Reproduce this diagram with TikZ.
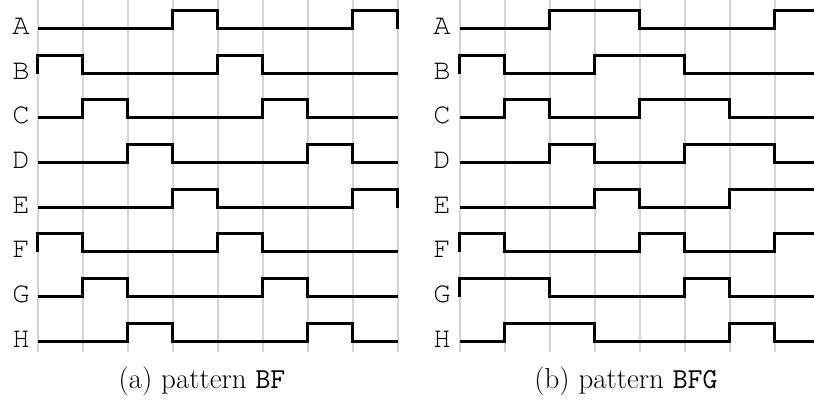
\documentclass[tikz,border=0pt]{standalone}
\usepackage{fontspec}
\newfontfamily\lblfont{texgyrecursor-regular.otf}
\tikzset{
  gridline/.style={draw=black!17, line width=2pt},
  sig/.style={draw=black, line width=3pt, line join=miter},
  lbl/.style={anchor=base east, inner sep=0pt, font=\lblfont\fontsize{29}{30}\selectfont},
  capt/.style={anchor=base, inner sep=0pt, font=\fontsize{29}{34}\selectfont}
}
\newcommand\mywave[3]{% x0, row, bits
  \pgfmathsetmacro\yl{round(28.5+44.67*#2-0.5)+0.5}
  \draw[sig] (#1,\yl) \foreach \b [count=\i from 0] in {#3} {
     -- ({#1+45*\i},{\yl-18*\b}) -- ({#1+45*(\i+1)},{\yl-18*\b}) } -- ({#1+360},\yl);
}
\begin{document}
\begin{tikzpicture}[x=1pt,y=-1pt]
\useasboundingbox (0,0) rectangle (814,405);
\clip (0,0) rectangle (814,405);
% grid
\foreach \k in {0,...,8} {
  \draw[gridline] ({38+45*\k},0) -- ({38+45*\k},352);
  \draw[gridline] ({460+45*\k},0) -- ({460+45*\k},352);
}
% labels
\foreach \n [count=\r from 0] in {A,B,C,D,E,F,G,H} {
  \pgfmathsetmacro\yy{29+44.67*\r+5.5}
  \node[lbl] (L\n) at (30,\yy) {\n};
  \node[lbl] (R\n) at (451,\yy) {\n};
}
% left: pattern BF
\mywave{37.5}{0}{0,0,0,1,0,0,0,1}
\mywave{37.5}{1}{1,0,0,0,1,0,0,0}
\mywave{37.5}{2}{0,1,0,0,0,1,0,0}
\mywave{37.5}{3}{0,0,1,0,0,0,1,0}
\mywave{37.5}{4}{0,0,0,1,0,0,0,1}
\mywave{37.5}{5}{1,0,0,0,1,0,0,0}
\mywave{37.5}{6}{0,1,0,0,0,1,0,0}
\mywave{37.5}{7}{0,0,1,0,0,0,1,0}
% right: pattern BFG
\mywave{459.5}{0}{0,0,1,1,0,0,0,1}
\mywave{459.5}{1}{1,0,0,1,1,0,0,0}
\mywave{459.5}{2}{0,1,0,0,1,1,0,0}
\mywave{459.5}{3}{0,0,1,0,0,1,1,0}
\mywave{459.5}{4}{0,0,0,1,0,0,1,1}
\mywave{459.5}{5}{1,0,0,0,1,0,0,1}
\mywave{459.5}{6}{1,1,0,0,0,1,0,0}
\mywave{459.5}{7}{0,1,1,0,0,0,1,0}
\node[capt] (capa) at (202,388) {(a) pattern \texttt{BF}};
\node[capt] (capb) at (626,388) {(b) pattern \texttt{BFG}};
\end{tikzpicture}
\end{document}
